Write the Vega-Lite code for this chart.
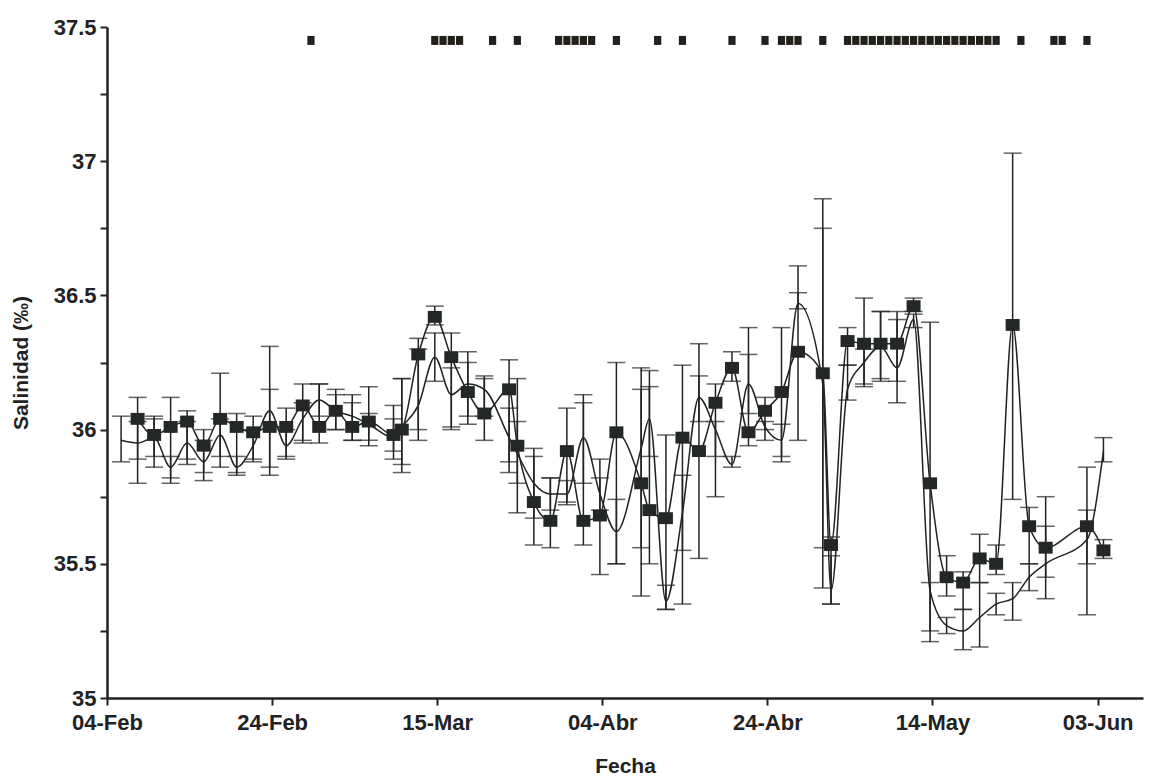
{
  "$schema": "https://vega.github.io/schema/vega-lite/v6.json",
  "width": 1036,
  "height": 671,
  "autosize": {"type": "none"},
  "padding": {"left": 107, "top": 27, "right": 8, "bottom": 82},
  "background": "white",
  "config": {
    "view": {"stroke": null},
    "axis": {
      "grid": false,
      "domainColor": "#222",
      "domainWidth": 2.5,
      "tickColor": "#222",
      "tickWidth": 2,
      "tickSize": 7,
      "labelFont": "Liberation Sans",
      "labelFontSize": 22,
      "labelFontWeight": "bold",
      "labelColor": "#222",
      "titleFont": "Liberation Sans",
      "titleFontSize": 21,
      "titleFontWeight": "bold",
      "titleColor": "#222"
    }
  },
  "datasets": {
    "medias": [
      {"fecha": "2008-02-07T17:00:00Z", "salinidad": 36.04, "inferior": 35.80, "superior": 36.12},
      {"fecha": "2008-02-09T17:00:00Z", "salinidad": 35.98, "inferior": 35.86, "superior": 36.05},
      {"fecha": "2008-02-11T17:00:00Z", "salinidad": 36.01, "inferior": 35.82, "superior": 36.12},
      {"fecha": "2008-02-13T17:00:00Z", "salinidad": 36.03, "inferior": 35.89, "superior": 36.07},
      {"fecha": "2008-02-15T17:00:00Z", "salinidad": 35.94, "inferior": 35.81, "superior": 36.00},
      {"fecha": "2008-02-17T17:00:00Z", "salinidad": 36.04, "inferior": 35.86, "superior": 36.21},
      {"fecha": "2008-02-19T17:00:00Z", "salinidad": 36.01, "inferior": 35.84, "superior": 36.06},
      {"fecha": "2008-02-21T17:00:00Z", "salinidad": 35.99, "inferior": 35.89, "superior": 36.05},
      {"fecha": "2008-02-23T17:00:00Z", "salinidad": 36.01, "inferior": 35.83, "superior": 36.31},
      {"fecha": "2008-02-25T17:00:00Z", "salinidad": 36.01, "inferior": 35.89, "superior": 36.08},
      {"fecha": "2008-02-27T17:00:00Z", "salinidad": 36.09, "inferior": 35.95, "superior": 36.17},
      {"fecha": "2008-02-29T17:00:00Z", "salinidad": 36.01, "inferior": 35.95, "superior": 36.17},
      {"fecha": "2008-03-02T17:00:00Z", "salinidad": 36.07, "inferior": 36.00, "superior": 36.15},
      {"fecha": "2008-03-04T17:00:00Z", "salinidad": 36.01, "inferior": 35.96, "superior": 36.13},
      {"fecha": "2008-03-06T17:00:00Z", "salinidad": 36.03, "inferior": 35.96, "superior": 36.16},
      {"fecha": "2008-03-09T17:00:00Z", "salinidad": 35.98, "inferior": 35.92, "superior": 36.09},
      {"fecha": "2008-03-10T17:00:00Z", "salinidad": 36.00, "inferior": 35.84, "superior": 36.19},
      {"fecha": "2008-03-12T17:00:00Z", "salinidad": 36.28, "inferior": 35.96, "superior": 36.34},
      {"fecha": "2008-03-14T17:00:00Z", "salinidad": 36.42, "inferior": 36.39, "superior": 36.46},
      {"fecha": "2008-03-16T17:00:00Z", "salinidad": 36.27, "inferior": 36.01, "superior": 36.36},
      {"fecha": "2008-03-18T17:00:00Z", "salinidad": 36.14, "inferior": 36.02, "superior": 36.29},
      {"fecha": "2008-03-20T17:00:00Z", "salinidad": 36.06, "inferior": 35.96, "superior": 36.19},
      {"fecha": "2008-03-23T17:00:00Z", "salinidad": 36.15, "inferior": 35.84, "superior": 36.26},
      {"fecha": "2008-03-24T17:00:00Z", "salinidad": 35.94, "inferior": 35.69, "superior": 36.19},
      {"fecha": "2008-03-26T17:00:00Z", "salinidad": 35.73, "inferior": 35.57, "superior": 35.93},
      {"fecha": "2008-03-28T17:00:00Z", "salinidad": 35.66, "inferior": 35.56, "superior": 35.82},
      {"fecha": "2008-03-30T17:00:00Z", "salinidad": 35.92, "inferior": 35.73, "superior": 36.08},
      {"fecha": "2008-04-01T17:00:00Z", "salinidad": 35.66, "inferior": 35.57, "superior": 36.13},
      {"fecha": "2008-04-03T17:00:00Z", "salinidad": 35.68, "inferior": 35.46, "superior": 35.89},
      {"fecha": "2008-04-05T17:00:00Z", "salinidad": 35.99, "inferior": 35.50, "superior": 36.25},
      {"fecha": "2008-04-08T17:00:00Z", "salinidad": 35.80, "inferior": 35.38, "superior": 36.23},
      {"fecha": "2008-04-09T17:00:00Z", "salinidad": 35.70, "inferior": 35.50, "superior": 36.16},
      {"fecha": "2008-04-11T17:00:00Z", "salinidad": 35.67, "inferior": 35.33, "superior": 35.98},
      {"fecha": "2008-04-13T17:00:00Z", "salinidad": 35.97, "inferior": 35.35, "superior": 36.24},
      {"fecha": "2008-04-15T17:00:00Z", "salinidad": 35.92, "inferior": 35.52, "superior": 36.32},
      {"fecha": "2008-04-17T17:00:00Z", "salinidad": 36.10, "inferior": 35.75, "superior": 36.17},
      {"fecha": "2008-04-19T17:00:00Z", "salinidad": 36.23, "inferior": 36.18, "superior": 36.29},
      {"fecha": "2008-04-21T17:00:00Z", "salinidad": 35.99, "inferior": 35.94, "superior": 36.38},
      {"fecha": "2008-04-23T17:00:00Z", "salinidad": 36.07, "inferior": 36.00, "superior": 36.12},
      {"fecha": "2008-04-25T17:00:00Z", "salinidad": 36.14, "inferior": 35.90, "superior": 36.38},
      {"fecha": "2008-04-27T17:00:00Z", "salinidad": 36.29, "inferior": 35.96, "superior": 36.61},
      {"fecha": "2008-04-30T17:00:00Z", "salinidad": 36.21, "inferior": 35.41, "superior": 36.86},
      {"fecha": "2008-05-01T17:00:00Z", "salinidad": 35.57, "inferior": 35.35, "superior": 35.60},
      {"fecha": "2008-05-03T17:00:00Z", "salinidad": 36.33, "inferior": 36.24, "superior": 36.38},
      {"fecha": "2008-05-05T17:00:00Z", "salinidad": 36.32, "inferior": 36.16, "superior": 36.49},
      {"fecha": "2008-05-07T17:00:00Z", "salinidad": 36.32, "inferior": 36.19, "superior": 36.44},
      {"fecha": "2008-05-09T17:00:00Z", "salinidad": 36.32, "inferior": 36.10, "superior": 36.41},
      {"fecha": "2008-05-11T17:00:00Z", "salinidad": 36.46, "inferior": 36.44, "superior": 36.49},
      {"fecha": "2008-05-13T17:00:00Z", "salinidad": 35.80, "inferior": 35.21, "superior": 36.40},
      {"fecha": "2008-05-15T17:00:00Z", "salinidad": 35.45, "inferior": 35.38, "superior": 35.53},
      {"fecha": "2008-05-17T17:00:00Z", "salinidad": 35.43, "inferior": 35.33, "superior": 35.47},
      {"fecha": "2008-05-19T17:00:00Z", "salinidad": 35.52, "inferior": 35.43, "superior": 35.61},
      {"fecha": "2008-05-21T17:00:00Z", "salinidad": 35.50, "inferior": 35.46, "superior": 35.57},
      {"fecha": "2008-05-23T17:00:00Z", "salinidad": 36.39, "inferior": 35.74, "superior": 37.03},
      {"fecha": "2008-05-25T17:00:00Z", "salinidad": 35.64, "inferior": 35.50, "superior": 35.71},
      {"fecha": "2008-05-27T17:00:00Z", "salinidad": 35.56, "inferior": 35.37, "superior": 35.75},
      {"fecha": "2008-06-01T17:00:00Z", "salinidad": 35.64, "inferior": 35.31, "superior": 35.86},
      {"fecha": "2008-06-03T17:00:00Z", "salinidad": 35.55, "inferior": 35.52, "superior": 35.59}
    ],
    "serie2": [
      {"fecha": "2008-02-05T17:00:00Z", "salinidad": 35.96, "inferior": 35.88, "superior": 36.05},
      {"fecha": "2008-02-07T17:00:00Z", "salinidad": 35.95, "inferior": 35.89, "superior": 36.03},
      {"fecha": "2008-02-09T17:00:00Z", "salinidad": 35.97, "inferior": 35.90, "superior": 36.04},
      {"fecha": "2008-02-11T17:00:00Z", "salinidad": 35.86, "inferior": 35.80, "superior": 35.90},
      {"fecha": "2008-02-13T17:00:00Z", "salinidad": 35.95, "inferior": 35.87, "superior": 36.03},
      {"fecha": "2008-02-15T17:00:00Z", "salinidad": 35.88, "inferior": 35.84, "superior": 35.96},
      {"fecha": "2008-02-17T17:00:00Z", "salinidad": 35.98, "inferior": 35.90, "superior": 36.04},
      {"fecha": "2008-02-19T17:00:00Z", "salinidad": 35.86, "inferior": 35.83, "superior": 35.90},
      {"fecha": "2008-02-21T17:00:00Z", "salinidad": 35.94, "inferior": 35.88, "superior": 36.00},
      {"fecha": "2008-02-23T17:00:00Z", "salinidad": 36.07, "inferior": 35.86, "superior": 36.15},
      {"fecha": "2008-02-25T17:00:00Z", "salinidad": 35.94, "inferior": 35.90, "superior": 36.00},
      {"fecha": "2008-02-27T17:00:00Z", "salinidad": 36.04, "inferior": 35.96, "superior": 36.10},
      {"fecha": "2008-02-29T17:00:00Z", "salinidad": 36.11, "inferior": 36.05, "superior": 36.17},
      {"fecha": "2008-03-02T17:00:00Z", "salinidad": 36.07, "inferior": 36.00, "superior": 36.13},
      {"fecha": "2008-03-04T17:00:00Z", "salinidad": 36.05, "inferior": 35.96, "superior": 36.10},
      {"fecha": "2008-03-06T17:00:00Z", "salinidad": 36.02, "inferior": 35.94, "superior": 36.06},
      {"fecha": "2008-03-09T17:00:00Z", "salinidad": 35.97, "inferior": 35.89, "superior": 36.04},
      {"fecha": "2008-03-10T17:00:00Z", "salinidad": 36.01, "inferior": 35.87, "superior": 36.19},
      {"fecha": "2008-03-12T17:00:00Z", "salinidad": 36.09, "inferior": 36.00, "superior": 36.30},
      {"fecha": "2008-03-14T17:00:00Z", "salinidad": 36.27, "inferior": 36.18, "superior": 36.36},
      {"fecha": "2008-03-16T17:00:00Z", "salinidad": 36.13, "inferior": 36.00, "superior": 36.23},
      {"fecha": "2008-03-18T17:00:00Z", "salinidad": 36.17, "inferior": 36.05, "superior": 36.25},
      {"fecha": "2008-03-20T17:00:00Z", "salinidad": 36.15, "inferior": 36.05, "superior": 36.20},
      {"fecha": "2008-03-23T17:00:00Z", "salinidad": 35.97, "inferior": 35.88, "superior": 36.08},
      {"fecha": "2008-03-24T17:00:00Z", "salinidad": 35.91, "inferior": 35.80, "superior": 36.03},
      {"fecha": "2008-03-26T17:00:00Z", "salinidad": 35.80, "inferior": 35.67, "superior": 35.90},
      {"fecha": "2008-03-28T17:00:00Z", "salinidad": 35.76, "inferior": 35.70, "superior": 35.82},
      {"fecha": "2008-03-30T17:00:00Z", "salinidad": 35.76, "inferior": 35.72, "superior": 35.81},
      {"fecha": "2008-04-01T17:00:00Z", "salinidad": 35.97, "inferior": 35.80, "superior": 36.10},
      {"fecha": "2008-04-03T17:00:00Z", "salinidad": 35.76, "inferior": 35.70, "superior": 35.82},
      {"fecha": "2008-04-05T17:00:00Z", "salinidad": 35.62, "inferior": 35.50, "superior": 35.74},
      {"fecha": "2008-04-08T17:00:00Z", "salinidad": 35.93, "inferior": 35.56, "superior": 36.15},
      {"fecha": "2008-04-09T17:00:00Z", "salinidad": 36.04, "inferior": 35.90, "superior": 36.22},
      {"fecha": "2008-04-11T17:00:00Z", "salinidad": 35.36, "inferior": 35.33, "superior": 35.42},
      {"fecha": "2008-04-13T17:00:00Z", "salinidad": 35.69, "inferior": 35.55, "superior": 35.83},
      {"fecha": "2008-04-15T17:00:00Z", "salinidad": 36.12, "inferior": 36.03, "superior": 36.20},
      {"fecha": "2008-04-17T17:00:00Z", "salinidad": 36.00, "inferior": 35.90, "superior": 36.03},
      {"fecha": "2008-04-19T17:00:00Z", "salinidad": 35.87, "inferior": 35.86, "superior": 35.90},
      {"fecha": "2008-04-21T17:00:00Z", "salinidad": 36.17, "inferior": 36.06, "superior": 36.28},
      {"fecha": "2008-04-23T17:00:00Z", "salinidad": 36.01, "inferior": 35.96, "superior": 36.03},
      {"fecha": "2008-04-25T17:00:00Z", "salinidad": 35.96, "inferior": 35.88, "superior": 36.02},
      {"fecha": "2008-04-27T17:00:00Z", "salinidad": 36.47, "inferior": 36.45, "superior": 36.51},
      {"fecha": "2008-04-30T17:00:00Z", "salinidad": 36.17, "inferior": 35.56, "superior": 36.75},
      {"fecha": "2008-05-01T17:00:00Z", "salinidad": 35.40, "inferior": 35.35, "superior": 35.53},
      {"fecha": "2008-05-03T17:00:00Z", "salinidad": 36.15, "inferior": 36.11, "superior": 36.24},
      {"fecha": "2008-05-05T17:00:00Z", "salinidad": 36.25, "inferior": 36.17, "superior": 36.30},
      {"fecha": "2008-05-07T17:00:00Z", "salinidad": 36.31, "inferior": 36.18, "superior": 36.44},
      {"fecha": "2008-05-09T17:00:00Z", "salinidad": 36.23, "inferior": 36.18, "superior": 36.44},
      {"fecha": "2008-05-11T17:00:00Z", "salinidad": 36.41, "inferior": 36.38, "superior": 36.43},
      {"fecha": "2008-05-13T17:00:00Z", "salinidad": 35.40, "inferior": 35.25, "superior": 35.43},
      {"fecha": "2008-05-15T17:00:00Z", "salinidad": 35.27, "inferior": 35.24, "superior": 35.30},
      {"fecha": "2008-05-17T17:00:00Z", "salinidad": 35.25, "inferior": 35.18, "superior": 35.33},
      {"fecha": "2008-05-19T17:00:00Z", "salinidad": 35.30, "inferior": 35.19, "superior": 35.43},
      {"fecha": "2008-05-21T17:00:00Z", "salinidad": 35.35, "inferior": 35.31, "superior": 35.39},
      {"fecha": "2008-05-23T17:00:00Z", "salinidad": 35.37, "inferior": 35.29, "superior": 35.43},
      {"fecha": "2008-05-25T17:00:00Z", "salinidad": 35.45, "inferior": 35.40, "superior": 35.50},
      {"fecha": "2008-05-27T17:00:00Z", "salinidad": 35.50, "inferior": 35.45, "superior": 35.64},
      {"fecha": "2008-06-01T17:00:00Z", "salinidad": 35.59, "inferior": 35.50, "superior": 35.70},
      {"fecha": "2008-06-03T17:00:00Z", "salinidad": 35.92, "inferior": 35.88, "superior": 35.97}
    ],
    "signif": [
      {"fecha": "2008-02-28T17:00:00Z"},
      {"fecha": "2008-03-14T17:00:00Z"},
      {"fecha": "2008-03-15T17:00:00Z"},
      {"fecha": "2008-03-16T17:00:00Z"},
      {"fecha": "2008-03-17T17:00:00Z"},
      {"fecha": "2008-03-21T17:00:00Z"},
      {"fecha": "2008-03-24T17:00:00Z"},
      {"fecha": "2008-03-29T17:00:00Z"},
      {"fecha": "2008-03-30T17:00:00Z"},
      {"fecha": "2008-03-31T17:00:00Z"},
      {"fecha": "2008-04-01T17:00:00Z"},
      {"fecha": "2008-04-02T17:00:00Z"},
      {"fecha": "2008-04-05T17:00:00Z"},
      {"fecha": "2008-04-10T17:00:00Z"},
      {"fecha": "2008-04-13T17:00:00Z"},
      {"fecha": "2008-04-19T17:00:00Z"},
      {"fecha": "2008-04-23T17:00:00Z"},
      {"fecha": "2008-04-25T17:00:00Z"},
      {"fecha": "2008-04-26T17:00:00Z"},
      {"fecha": "2008-04-27T17:00:00Z"},
      {"fecha": "2008-04-30T17:00:00Z"},
      {"fecha": "2008-05-03T17:00:00Z"},
      {"fecha": "2008-05-04T17:00:00Z"},
      {"fecha": "2008-05-05T17:00:00Z"},
      {"fecha": "2008-05-06T17:00:00Z"},
      {"fecha": "2008-05-07T17:00:00Z"},
      {"fecha": "2008-05-08T17:00:00Z"},
      {"fecha": "2008-05-09T17:00:00Z"},
      {"fecha": "2008-05-10T17:00:00Z"},
      {"fecha": "2008-05-11T17:00:00Z"},
      {"fecha": "2008-05-12T17:00:00Z"},
      {"fecha": "2008-05-13T17:00:00Z"},
      {"fecha": "2008-05-14T17:00:00Z"},
      {"fecha": "2008-05-15T17:00:00Z"},
      {"fecha": "2008-05-16T17:00:00Z"},
      {"fecha": "2008-05-17T17:00:00Z"},
      {"fecha": "2008-05-18T17:00:00Z"},
      {"fecha": "2008-05-19T17:00:00Z"},
      {"fecha": "2008-05-20T17:00:00Z"},
      {"fecha": "2008-05-21T17:00:00Z"},
      {"fecha": "2008-05-24T17:00:00Z"},
      {"fecha": "2008-05-28T17:00:00Z"},
      {"fecha": "2008-05-29T17:00:00Z"},
      {"fecha": "2008-06-01T17:00:00Z"}
    ]
  },
  "encoding": {
    "x": {
      "field": "fecha",
      "type": "temporal",
      "title": "Fecha",
      "scale": {
        "type": "utc",
        "domain": [
          {"year": 2008, "month": 2, "date": 4, "utc": true},
          {"year": 2008, "month": 6, "date": 8, "hours": 12, "utc": true}
        ]
      },
      "axis": {
        "values": [
          {"year": 2008, "month": 2, "date": 4, "utc": true},
          {"year": 2008, "month": 2, "date": 24, "utc": true},
          {"year": 2008, "month": 3, "date": 15, "utc": true},
          {"year": 2008, "month": 4, "date": 4, "utc": true},
          {"year": 2008, "month": 4, "date": 24, "utc": true},
          {"year": 2008, "month": 5, "date": 14, "utc": true},
          {"year": 2008, "month": 6, "date": 3, "utc": true}
        ],
        "labelExpr": "replace(utcFormat(datum.value, '%d-%b'), 'Apr', 'Abr')",
        "labelFlush": false,
        "labelOverlap": false,
        "labelPadding": 7,
        "titleY": 68,
        "titleBaseline": "middle"
      }
    }
  },
  "layer": [
    {
      "data": {"name": "serie2"},
      "mark": {"type": "errorbar", "ticks": {"size": 18, "thickness": 1.5, "color": "#222"}, "rule": {"strokeWidth": 1.5, "color": "#222"}},
      "encoding": {
        "y": {"field": "inferior", "type": "quantitative", "title": "Salinidad (‰)", "scale": {"domain": [35, 37.5], "nice": false, "zero": false}},
        "y2": {"field": "superior"}
      }
    },
    {
      "data": {"name": "medias"},
      "mark": {"type": "errorbar", "ticks": {"size": 18, "thickness": 1.5, "color": "#222"}, "rule": {"strokeWidth": 1.5, "color": "#222"}},
      "encoding": {
        "y": {"field": "inferior", "type": "quantitative", "title": "Salinidad (‰)"},
        "y2": {"field": "superior"}
      }
    },
    {
      "data": {"name": "serie2"},
      "mark": {"type": "line", "interpolate": "monotone", "color": "#222", "strokeWidth": 1.5},
      "encoding": {
        "y": {"field": "salinidad", "type": "quantitative", "title": "Salinidad (‰)"}
      }
    },
    {
      "data": {"name": "medias"},
      "mark": {"type": "line", "interpolate": "monotone", "color": "#222", "strokeWidth": 1.5},
      "encoding": {
        "y": {"field": "salinidad", "type": "quantitative", "title": "Salinidad (‰)"}
      }
    },
    {
      "data": {"name": "medias"},
      "mark": {"type": "point", "shape": "M-1,-0.85L1,-0.85L1,0.85L-1,0.85Z", "size": 196, "filled": true, "color": "#232728", "opacity": 1},
      "encoding": {
        "y": {
          "field": "salinidad",
          "type": "quantitative",
          "title": "Salinidad (‰)",
          "axis": {
            "values": [35, 35.25, 35.5, 35.75, 36, 36.25, 36.5, 36.75, 37, 37.25, 37.5],
            "labelExpr": "datum.value % 0.5 == 0 ? format(datum.value, '~g') : ''",
            "labelFontSize": 22,
            "labelPadding": 4,
            "titleX": -86,
            "titleY": 335.5,
            "titleBaseline": "middle"
          }
        }
      }
    },
    {
      "data": {"name": "signif"},
      "mark": {"type": "point", "shape": "M-0.8,-1L0.8,-1L0.8,1L-0.8,1Z", "size": 81, "filled": true, "color": "#231f1a", "opacity": 1},
      "encoding": {
        "y": {"datum": 37.45, "type": "quantitative"}
      }
    }
  ]
}
